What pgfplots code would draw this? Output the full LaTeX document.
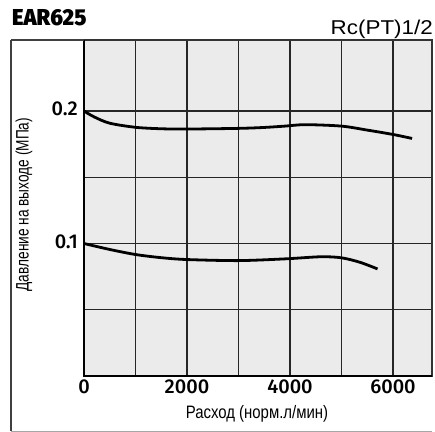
\documentclass[border=0pt]{standalone}
\usepackage{fontspec}
\setmainfont{Liberation Sans}
\IfFontExistsTF{Fira Sans Black}
  {\newfontfamily\heavyfont{Fira Sans Black}\def\heavyscale{0.95}}
  {\newfontfamily\heavyfont{Liberation Sans Bold}\def\heavyscale{0.87}}
\IfFontExistsTF{Fira Sans Medium}
  {\newfontfamily\tickfont{Fira Sans Medium}}
  {\newfontfamily\tickfont{Liberation Sans}}
\usepackage{graphicx}
\usepackage{pgfplots}
\usepackage{pgfplotstable}
\pgfplotsset{compat=1.18}
\usetikzlibrary{calc}

% outlet pressure vs. flow
\pgfplotstableread{
x y
0 0.2
200 0.1955
500 0.1908
1000 0.1877
1500 0.1866
2000 0.1864
3000 0.1869
3500 0.1876
3900 0.1886
4300 0.1897
5000 0.1886
5500 0.1856
6000 0.1823
6370 0.1793
}\curvehigh
\pgfplotstableread{
x y
0 0.1
500 0.0955
1000 0.0917
1500 0.0893
2000 0.0879
3000 0.0871
3900 0.0884
4600 0.0900
5000 0.0892
5360 0.0858
5700 0.0808
}\curvelow

\begin{document}
\begin{tikzpicture}
\path[use as bounding box] (-84bp,-56bp) rectangle (351bp,376bp);
\begin{axis}[%
    at={(0,0)}, anchor=south west,%
    scale only axis,%
    width=348bp, height=336bp,%
    xmin=0, xmax=6757, ymin=0, ymax=0.2536,%
    xtick={0,2000,4000,6000}, minor xtick={1000,3000,5000},%
    ytick={0.1,0.2}, minor ytick={0.05,0.15},%
    scaled x ticks=false,%
    /pgf/number format/1000 sep={},%
    /pgf/number format/assume math mode=true,%
    grid=both,%
    grid style={black!85, line width=1.2bp},%
    minor grid style={black!85, line width=1.2bp},%
    major tick length=0pt, minor tick length=0pt,%
    axis line style={black!80, line width=1.3bp},%
    axis background/.style={fill=black!8},%
    tick label style={font=\tickfont\fontsize{20bp}{22bp}\selectfont, inner sep=0pt},%
    xticklabel style={yshift=-4bp},%
    yticklabel style={xshift=-6bp, yshift=2bp},%
    clip=false,%
    ]
\addplot[black, line width=2.8bp, smooth] table[x=x, y=y] {\curvehigh};
\addplot[black, line width=2.8bp, smooth] table[x=x, y=y] {\curvelow};
% heavier left and bottom edges
\draw[black, line width=2.2bp] (rel axis cs:0,1) -- (rel axis cs:0,0) -- (rel axis cs:1,0);
% outer frame
\draw[black!75, line width=1.2bp] ($(rel axis cs:0,1)+(-73bp,0)$) -- (rel axis cs:0,1);
\draw[black!75, line width=1.2bp] ($(rel axis cs:0,1)+(-73bp,0)$) -- ($(rel axis cs:0,0)+(-73bp,-55bp)$);
\draw[black!35, line width=1bp] ($(rel axis cs:0,0)+(-73bp,-55bp)$) -- ($(rel axis cs:1,0)+(0,-55bp)$);
% titles
\node[anchor=base west, inner sep=0pt, font=\heavyfont\fontsize{23bp}{24bp}\selectfont]
    at ($(rel axis cs:0,1)+(-72bp,14bp)$) {\scalebox{\heavyscale}[1]{EAR625}};
\node[anchor=base east, inner sep=0pt, font=\fontsize{20bp}{22bp}\selectfont]
    at ($(rel axis cs:1,1)+(1bp,5bp)$) {\scalebox{1.12}[1]{Rc(PT)1/2}};
% axis labels
\node[font=\fontsize{18bp}{20bp}\selectfont, inner sep=0pt]
    at ($(rel axis cs:0.5,0)+(-1bp,-38bp)$) {\scalebox{0.83}[1]{Расход (норм.л/мин)}};
\node[font=\fontsize{18bp}{20bp}\selectfont, inner sep=0pt, rotate=90]
    at ($(rel axis cs:0,0.51)+(-60bp,0)$) {\scalebox{0.76}[1]{Давление на выходе (МПа)}};
\end{axis}
\end{tikzpicture}
\end{document}
